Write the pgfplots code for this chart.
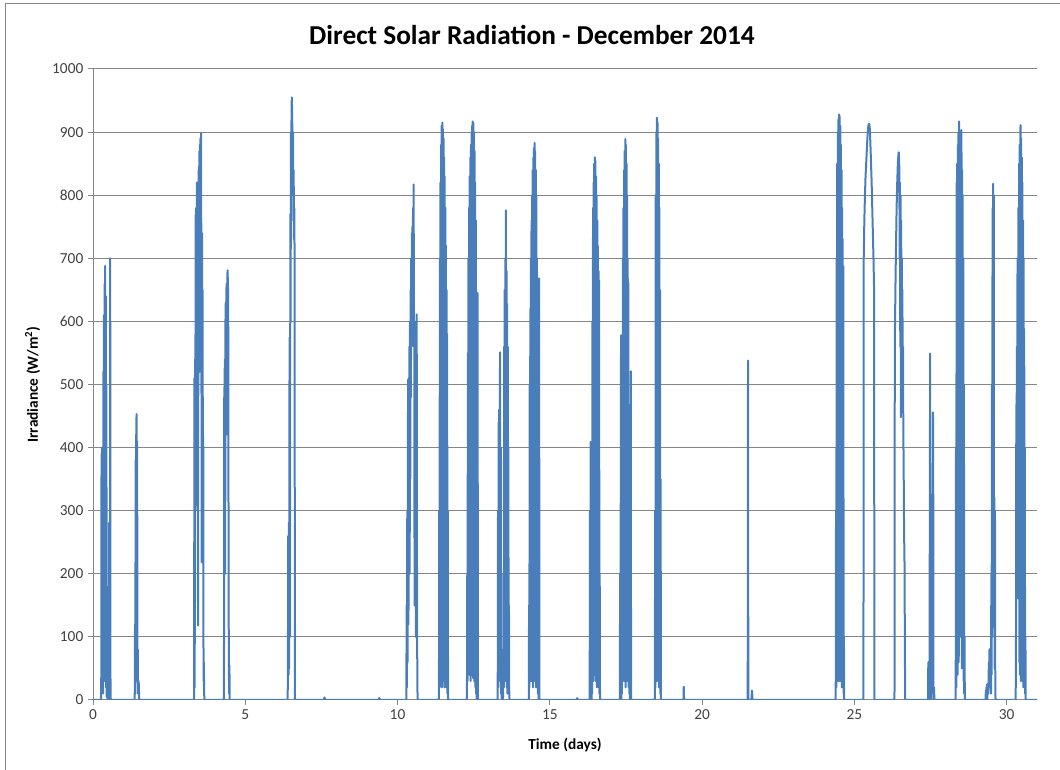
\documentclass[border=0pt]{standalone}
\usepackage{pgfplots}
\pgfplotsset{compat=1.18}
\usepackage{fontspec}
\setmainfont{Carlito}
\definecolor{serie}{HTML}{4A7EBB}
\definecolor{gridc}{HTML}{868686}
\definecolor{tickc}{HTML}{404040}
\begin{document}
\begin{tikzpicture}
\useasboundingbox (0,0) rectangle (795pt,577.5pt);
% chart frame (cut by the page at right and bottom)
\draw[gridc, line width=0.75pt] (3.75pt,-10pt) -- (3.75pt,574.5pt) -- (800pt,574.5pt);
\node[font=\fontsize{20.5}{24}\selectfont\bfseries] at (399pt,551pt) {Direct Solar Radiation - December 2014};
\begin{axis}[
  at={(69.75pt,52.5pt)}, anchor=south west,
  scale only axis,
  width=708pt, height=473.25pt,
  xmin=0, xmax=31, ymin=0, ymax=1000,
  xtick={0,5,...,30},
  ytick={0,100,...,1000},
  axis x line*=bottom, axis y line*=left,
  axis line style={gridc, line width=0.75pt, -},
  ymajorgrids,
  major grid style={gridc, line width=0.75pt},
  tick align=outside,
  major tick length=3.75pt,
  tick style={gridc, line width=0.75pt},
  /pgf/number format/assume math mode=true,
  /pgf/number format/1000 sep={},
  tick label style={font=\fontsize{11.5}{13}\selectfont, text=tickc},
  xlabel={Time (days)},
  ylabel={Irradiance (W/m\textsuperscript{2})},
  label style={font=\fontsize{11.5}{13}\selectfont\bfseries},
  xlabel style={at={(axis description cs:0.5,-0.071)}, anchor=center},
  ylabel style={at={(axis description cs:-0.064,0.5)}, anchor=center, rotate=0},
  clip=true,
]
\addplot[serie, line width=1.5pt, line join=round, mark=none] coordinates {
(0,0)(0.27,0)(0.28,390)(0.29,20)(0.30,400)(0.31,80)(0.32,330)(0.33,10)(0.34,520)(0.35,60)(0.36,610)(0.37,150)(0.38,660)(0.39,30)(0.40,688)(0.41,250)(0.42,640)(0.43,20)(0.44,500)(0.45,5)(0.46,180)(0.47,0)(0.50,0)(0.51,90)(0.52,10)(0.53,281)(0.54,0)(0.555,0)(0.565,700)(0.575,10)(0.585,0)
(1.37,0)(1.38,120)(1.39,10)(1.40,380)(1.41,60)(1.42,420)(1.43,453)(1.44,200)(1.45,410)(1.46,30)(1.47,80)(1.48,10)(1.50,30)(1.52,0)
(3.32,0)(3.33,510)(3.34,20)(3.35,540)(3.36,300)(3.37,769)(3.38,400)(3.39,780)(3.40,500)(3.41,820)(3.42,560)(3.43,760)(3.44,300)(3.45,118)(3.46,700)(3.47,840)(3.48,600)(3.49,870)(3.50,520)(3.51,880)(3.52,650)(3.53,890)(3.54,700)(3.55,898)(3.56,600)(3.57,218)(3.58,740)(3.59,560)(3.60,650)(3.61,230)(3.62,420)(3.63,30)(3.64,60)(3.65,10)(3.66,0)
(4.30,0)(4.31,480)(4.32,500)(4.33,540)(4.34,200)(4.35,600)(4.36,630)(4.37,420)(4.38,650)(4.39,660)(4.40,600)(4.41,670)(4.42,681)(4.43,660)(4.44,640)(4.45,300)(4.46,60)(4.47,10)(4.48,55)(4.49,0)
(6.39,0)(6.40,30)(6.41,260)(6.42,40)(6.43,281)(6.44,50)(6.45,480)(6.46,575)(6.47,100)(6.48,770)(6.49,600)(6.50,900)(6.51,800)(6.52,940)(6.53,955)(6.54,930)(6.55,880)(6.56,820)(6.57,900)(6.58,760)(6.59,840)(6.60,730)(6.61,780)(6.62,700)(6.63,0)(6.64,0)
(7.58,0)(7.60,4)(7.63,0)(9.38,0)(9.40,3)(9.43,0)
(10.29,0)(10.30,151)(10.31,20)(10.32,300)(10.33,60)(10.34,420)(10.35,508)(10.36,120)(10.37,510)(10.38,430)(10.39,560)(10.40,200)(10.41,600)(10.42,350)(10.43,650)(10.44,480)(10.45,700)(10.46,560)(10.47,740)(10.48,620)(10.49,750)(10.50,700)(10.51,780)(10.52,740)(10.53,817)(10.54,560)(10.55,600)(10.56,150)(10.57,580)(10.58,300)(10.59,590)(10.60,100)(10.61,600)(10.62,560)(10.63,611)(10.64,200)(10.65,30)(10.66,0)
(11.36,0)(11.37,300)(11.38,20)(11.39,700)(11.40,40)(11.41,820)(11.42,30)(11.43,880)(11.44,60)(11.45,910)(11.46,20)(11.47,915)(11.48,50)(11.49,905)(11.50,30)(11.51,890)(11.52,40)(11.53,860)(11.54,20)(11.55,830)(11.56,50)(11.57,780)(11.58,30)(11.59,720)(11.60,20)(11.61,650)(11.62,40)(11.63,580)(11.64,10)(11.65,300)(11.66,0)
(12.28,0)(12.29,200)(12.30,30)(12.31,550)(12.32,50)(12.33,700)(12.34,100)(12.35,780)(12.36,40)(12.37,830)(12.38,60)(12.39,860)(12.40,30)(12.41,880)(12.42,50)(12.43,900)(12.44,40)(12.45,910)(12.46,60)(12.47,917)(12.48,35)(12.49,915)(12.50,40)(12.51,900)(12.52,30)(12.53,870)(12.54,50)(12.55,820)(12.56,20)(12.57,760)(12.58,10)(12.59,500)(12.60,0)(12.62,0)(12.63,645)(12.64,0)
(13.29,0)(13.30,300)(13.31,20)(13.32,440)(13.33,60)(13.34,460)(13.35,100)(13.36,500)(13.37,551)(13.38,30)(13.39,400)(13.40,10)(13.41,40)(13.42,0)(13.44,10)(13.46,0)(13.47,10)(13.48,200)(13.49,20)(13.50,560)(13.51,40)(13.52,650)(13.53,30)(13.54,700)(13.55,60)(13.56,776)(13.57,30)(13.58,680)(13.59,20)(13.60,628)(13.61,10)(13.62,560)(13.63,20)(13.64,400)(13.65,10)(13.66,150)(13.67,0)
(14.31,0)(14.32,150)(14.33,20)(14.34,500)(14.35,40)(14.36,620)(14.37,30)(14.38,700)(14.39,50)(14.40,760)(14.41,30)(14.42,800)(14.43,40)(14.44,840)(14.45,20)(14.46,860)(14.47,50)(14.48,875)(14.49,30)(14.50,883)(14.51,40)(14.52,870)(14.53,30)(14.54,840)(14.55,20)(14.56,800)(14.57,40)(14.58,700)(14.59,20)(14.60,600)(14.61,10)(14.62,300)(14.63,0)(14.64,0)(14.65,668)(14.66,0)
(15.88,0)(15.90,3)(15.92,0)
(16.31,0)(16.32,300)(16.33,10)(16.34,409)(16.35,0)(16.36,20)(16.37,0)(16.38,40)(16.39,10)(16.40,600)(16.41,50)(16.42,780)(16.43,30)(16.44,820)(16.45,60)(16.46,850)(16.47,40)(16.48,860)(16.49,435)(16.50,855)(16.51,30)(16.52,830)(16.53,50)(16.54,800)(16.55,20)(16.56,760)(16.57,40)(16.58,720)(16.59,30)(16.60,680)(16.61,20)(16.62,665)(16.63,10)(16.64,200)(16.65,0)
(17.30,0)(17.31,200)(17.32,10)(17.34,578)(17.35,0)(17.36,50)(17.37,10)(17.38,500)(17.39,40)(17.40,700)(17.41,30)(17.42,780)(17.43,60)(17.44,840)(17.45,30)(17.46,870)(17.47,40)(17.48,889)(17.49,20)(17.50,880)(17.51,50)(17.52,850)(17.53,30)(17.54,800)(17.55,60)(17.56,700)(17.57,40)(17.58,661)(17.59,20)(17.60,400)(17.61,10)(17.62,30)(17.63,0)(17.65,0)(17.66,521)(17.67,0)
(18.45,0)(18.46,300)(18.47,20)(18.48,800)(18.49,40)(18.50,900)(18.51,30)(18.52,923)(18.53,50)(18.54,915)(18.55,30)(18.56,890)(18.57,40)(18.58,850)(18.59,20)(18.60,780)(18.61,30)(18.62,650)(18.63,10)(18.64,350)(18.65,0)
(19.39,0)(19.40,21)(19.41,0)
(21.50,0)(21.51,538)(21.52,0)(21.62,0)(21.64,15)(21.66,0)
(24.39,0)(24.40,300)(24.41,20)(24.42,700)(24.43,40)(24.44,850)(24.45,30)(24.46,900)(24.47,50)(24.48,920)(24.49,30)(24.50,928)(24.51,40)(24.52,925)(24.53,30)(24.54,910)(24.55,50)(24.56,880)(24.57,30)(24.58,840)(24.59,20)(24.60,780)(24.61,40)(24.62,730)(24.63,20)(24.64,688)(24.65,10)(24.66,100)(24.67,0)
(25.29,0)(25.30,0)(25.31,700)(25.33,760)(25.35,800)(25.37,830)(25.39,850)(25.41,870)(25.43,890)(25.45,905)(25.47,912)(25.49,913)(25.51,905)(25.53,880)(25.55,850)(25.57,820)(25.59,780)(25.61,740)(25.63,700)(25.65,650)(25.66,0)
(26.31,0)(26.32,0)(26.33,560)(26.35,650)(26.37,720)(26.39,780)(26.41,820)(26.43,850)(26.45,865)(26.46,868)(26.47,860)(26.48,840)(26.49,700)(26.50,820)(26.51,560)(26.52,800)(26.53,448)(26.54,760)(26.55,520)(26.56,700)(26.57,600)(26.58,650)(26.59,500)(26.60,560)(26.61,420)(26.62,380)(26.63,300)(26.64,250)(26.65,215)(26.66,100)(26.67,0)
(27.42,0)(27.43,60)(27.44,10)(27.45,40)(27.46,0)(27.47,30)(27.49,549)(27.50,20)(27.51,50)(27.52,0)(27.53,30)(27.54,10)(27.56,20)(27.58,456)(27.59,440)(27.60,20)(27.61,0)(27.62,20)(27.63,0)
(28.33,0)(28.34,400)(28.35,20)(28.36,820)(28.37,100)(28.38,850)(28.39,40)(28.40,880)(28.41,200)(28.42,900)(28.43,60)(28.44,917)(28.45,300)(28.46,880)(28.47,100)(28.48,860)(28.49,248)(28.50,880)(28.51,150)(28.52,903)(28.53,50)(28.54,840)(28.55,200)(28.56,800)(28.57,60)(28.58,700)(28.59,30)(28.60,500)(28.61,10)(28.62,100)(28.63,0)
(29.31,0)(29.32,15)(29.33,0)(29.34,20)(29.35,5)(29.36,25)(29.37,0)(29.38,20)(29.40,10)(29.42,60)(29.43,20)(29.44,80)(29.45,40)(29.46,81)(29.47,30)(29.48,70)(29.49,10)(29.50,200)(29.51,40)(29.52,500)(29.53,100)(29.54,780)(29.55,300)(29.56,818)(29.57,200)(29.58,800)(29.59,150)(29.60,321)(29.61,50)(29.62,300)(29.63,10)(29.64,0)
(30.30,0)(30.31,100)(30.32,468)(30.33,420)(30.34,560)(30.35,300)(30.36,700)(30.37,500)(30.38,161)(30.39,780)(30.40,300)(30.41,850)(30.42,60)(30.43,880)(30.44,40)(30.45,900)(30.46,911)(30.47,30)(30.48,890)(30.49,60)(30.50,860)(30.51,30)(30.52,820)(30.53,50)(30.54,760)(30.55,20)(30.56,700)(30.57,40)(30.58,588)(30.59,20)(30.60,400)(30.61,10)(30.62,100)(30.63,0)(31,0)
};
\end{axis}
\end{tikzpicture}
\end{document}
